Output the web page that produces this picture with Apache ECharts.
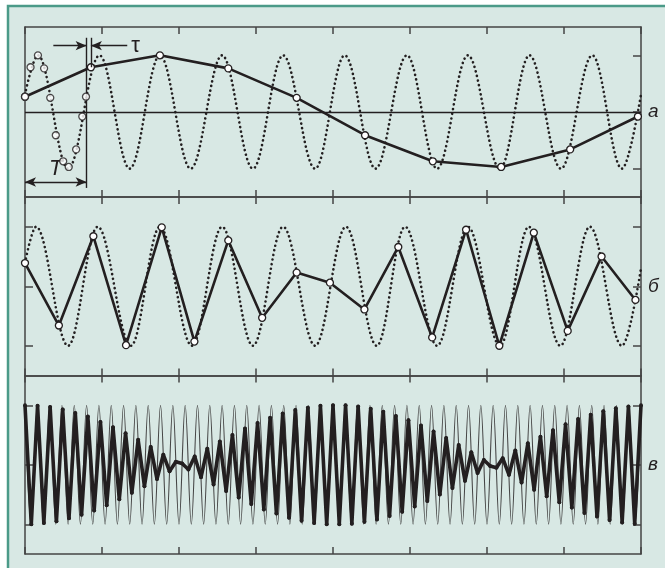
<!DOCTYPE html>
<html>
<head>
<meta charset="utf-8">
<script src="https://cdn.jsdelivr.net/npm/echarts@6/dist/echarts.min.js"></script>
<style>
  html, body { margin: 0; padding: 0; background: #ffffff; }
  #chart { width: 665px; height: 568px; }
</style>
</head>
<body>
<div id="chart"></div>
<script>
// Time is measured in periods T of the input sine; the frame spans 10 T.

// а — sine (extrema and ends) and its samples taken every T + τ
const waveAX = [0, 0.21, 0.7, 1.21, 1.7, 2.19, 2.69, 3.2, 3.7, 4.19, 4.71, 5.19, 5.69, 6.2, 6.69, 7.19, 7.71, 8.19, 8.7, 9.21, 9.69, 10];
const waveAY = [0.31, 1, -1, 1, -1, 1, -1, 1, -1, 1, -1, 1, -1, 1, -1, 1, -1, 1, -1, 1, -1, 0.31];
const sampleAX = [0, 1.07, 2.19, 3.30, 4.41, 5.52, 6.62, 7.73, 8.85, 9.95];
const sampleAY = [0.27, 0.79, 1.0, 0.77, 0.25, -0.41, -0.87, -0.97, -0.66, -0.08];
// the same samples folded back into one period (step τ)
const strobeAX = [0, 0.09, 0.21, 0.31, 0.41, 0.50, 0.62, 0.71, 0.83, 0.93, 0.99];
const strobeAY = [0.27, 0.79, 1.0, 0.77, 0.25, -0.41, -0.87, -0.97, -0.66, -0.08, 0.27];
const periodT = 1;

// б — same sine sampled a little slower than twice per period
const waveBX = [0, 0.18, 0.70, 1.18, 1.72, 2.19, 2.71, 3.2, 3.70, 4.19, 4.71, 5.21, 5.71, 6.17, 6.69, 7.19, 7.71, 8.18, 8.69, 9.17, 9.69, 10];
const waveBY = [0.39, 1, -1, 1, -1, 1, -1, 1, -1, 1, -1, 1, -1, 1, -1, 1, -1, 1, -1, 1, -1, 0.3];
const sampleBX = [0, 0.55, 1.11, 1.64, 2.22, 2.75, 3.30, 3.85, 4.41, 4.95, 5.51, 6.06, 6.61, 7.16, 7.70, 8.26, 8.81, 9.36, 9.91];
const sampleBY = [0.39, -0.66, 0.84, -0.99, 0.99, -0.93, 0.77, -0.53, 0.23, 0.06, -0.39, 0.66, -0.86, 0.95, -1.0, 0.90, -0.75, 0.50, -0.23];

// в — fast sine (50 periods, extrema only) and its samples near the Nyquist rate
const waveCY = [
  1, -1, 1, -1, 1, -1, 1, -1, 1, -1, 1, -1, 1, -1, 1, -1, 1, -1, 1, -1,
  1, -1, 1, -1, 1, -1, 1, -1, 1, -1, 1, -1, 1, -1, 1, -1, 1, -1, 1, -1,
  1, -1, 1, -1, 1, -1, 1, -1, 1, -1, 1, -1, 1, -1, 1, -1, 1, -1, 1, -1,
  1, -1, 1, -1, 1, -1, 1, -1, 1, -1, 1, -1, 1, -1, 1, -1, 1, -1, 1, -1,
  1, -1, 1, -1, 1, -1, 1, -1, 1, -1, 1, -1, 1, -1, 1, -1, 1, -1, 1, -1, 1
];
const sampleCY = [
  1.00, -1.00, 0.99, -0.98, 0.97, -0.95, 0.93, -0.90, 0.87, -0.84,
  0.81, -0.77, 0.72, -0.68, 0.63, -0.58, 0.53, -0.47, 0.42, -0.36,
  0.30, -0.24, 0.17, -0.11, 0.05, 0.02, -0.08, 0.14, -0.21, 0.27,
  -0.33, 0.39, -0.44, 0.50, -0.55, 0.61, -0.66, 0.70, -0.75, 0.79,
  -0.82, 0.86, -0.89, 0.92, -0.94, 0.96, -0.98, 0.99, -1.00, 1.00,
  -1.00, 1.00, -0.99, 0.98, -0.96, 0.94, -0.92, 0.89, -0.86, 0.82,
  -0.79, 0.75, -0.70, 0.66, -0.61, 0.56, -0.50, 0.45, -0.39, 0.33,
  -0.27, 0.21, -0.14, 0.08, -0.02, -0.05, 0.11, -0.17, 0.24, -0.30,
  0.36, -0.42, 0.47, -0.53, 0.58, -0.63, 0.68, -0.72, 0.77, -0.81,
  0.84, -0.87, 0.90, -0.93, 0.95, -0.97, 0.98, -0.99, 1.00
];

const panelLetters = ['а', 'б', 'в'];

const INK = '#231f20';
const FRAME = '#444444';
const LABEL_FONT = '"Liberation Sans Narrow", "Liberation Sans", Arial, sans-serif';
const dotted = { type: [0.1, 4.6], cap: 'round', width: 2.6, color: INK };
const openCircle = { color: '#ffffff', borderColor: INK, borderWidth: 1.3 };
const pair = (xs, ys) => xs.map((x, i) => [x, ys[i]]);

function frameX(gridIndex, position) {
  return {
    type: 'value', gridIndex, position, min: 0, max: 10, interval: 1.25,
    axisLine: { show: true, onZero: false, lineStyle: { color: FRAME, width: 1.5 } },
    axisTick: { show: true, inside: true, length: 7, lineStyle: { color: FRAME, width: 1.5 } },
    axisLabel: { show: false }, splitLine: { show: false }
  };
}
function indexX(gridIndex, values) {
  return {
    type: 'category', gridIndex, show: false, boundaryGap: false,
    data: values.map((_, i) => i)
  };
}
function frameY(gridIndex, position, ticks, letter) {
  return {
    type: 'value', gridIndex, position, min: -1.5, max: 1.5,
    axisLine: { show: true, onZero: false, lineStyle: { color: FRAME, width: 1.5 } },
    axisTick: { show: ticks.length > 0, inside: true, length: 8, customValues: ticks,
      lineStyle: { color: FRAME, width: 1.5 } },
    axisLabel: { show: !!letter, customValues: [0], formatter: () => letter || '',
      margin: 7, color: INK, fontSize: 19, fontStyle: 'italic', fontFamily: LABEL_FONT },
    splitLine: { show: false }
  };
}

const arrowSize = [7, 11];
const tY = -1.235, tauY = 1.17, guideTop = 1.31, guideBottom = -1.34;

const chart = echarts.init(document.getElementById('chart'), null, { renderer: 'canvas' });
chart.setOption({
  animation: false,
  backgroundColor: '#ffffff',
  graphic: [{
    type: 'rect', z: -10, silent: true,
    shape: { x: 8, y: 6, width: 700, height: 600 },
    style: { fill: '#d8e8e4', stroke: '#4b9a88', lineWidth: 2.5 }
  }],
  grid: [
    { left: 25, right: 24, top: 27, height: 170 },
    { left: 25, right: 24, top: 197, height: 178.5 },
    { left: 25, right: 24, top: 375.5, height: 178.5 }
  ],
  xAxis: [
    frameX(0, 'bottom'), frameX(0, 'top'),
    frameX(1, 'bottom'), frameX(1, 'top'),
    frameX(2, 'bottom'), frameX(2, 'top'),
    indexX(2, waveCY), indexX(2, sampleCY)
  ],
  yAxis: [
    frameY(0, 'left', []), frameY(0, 'right', [-1, 0, 1], panelLetters[0]),
    frameY(1, 'left', [-1, 0, 1]), frameY(1, 'right', [-1, 0, 1], panelLetters[1]),
    frameY(2, 'left', [-1, 0, 1]), frameY(2, 'right', [-1, 0, 1], panelLetters[2])
  ],
  series: [
    {
      type: 'line', xAxisIndex: 0, yAxisIndex: 0, data: pair(waveAX, waveAY),
      smooth: 0.363, smoothMonotone: 'x', symbol: 'none', lineStyle: dotted, z: 2,
      markLine: {
        silent: true, symbol: 'none', animation: false,
        lineStyle: { color: INK, type: 'solid', width: 1.4 },
        label: { show: false },
        emphasis: { disabled: true },
        data: [
          { yAxis: 0, lineStyle: { width: 1.3 } },
          [
            { coord: [0, tY], symbol: 'arrow', symbolSize: arrowSize },
            { coord: [periodT, tY], symbol: 'arrow', symbolSize: arrowSize,
              label: { show: true, formatter: 'T', position: 'middle', distance: 2,
                fontSize: 22, fontStyle: 'italic', color: INK, fontFamily: LABEL_FONT } }
          ],
          [{ coord: [periodT, guideTop] }, { coord: [periodT, guideBottom] }],
          [{ coord: [sampleAX[1], guideTop] }, { coord: [sampleAX[1], sampleAY[1]] }],
          [{ coord: [0.46, tauY] }, { coord: [periodT, tauY], symbol: 'arrow', symbolSize: arrowSize }],
          [
            { coord: [1.66, tauY] },
            { coord: [sampleAX[1], tauY], symbol: 'arrow', symbolSize: arrowSize,
              label: { show: true, formatter: 'τ', position: 'start', distance: 4,
                fontSize: 22, color: INK, fontFamily: LABEL_FONT } }
          ]
        ]
      }
    },
    {
      type: 'line', xAxisIndex: 0, yAxisIndex: 0, data: pair(sampleAX, sampleAY),
      symbol: 'circle', symbolSize: 7, showAllSymbol: true, itemStyle: openCircle,
      lineStyle: { color: INK, width: 2.6 }, z: 4
    },
    {
      type: 'scatter', xAxisIndex: 0, yAxisIndex: 0, data: pair(strobeAX, strobeAY),
      symbol: 'circle', symbolSize: 7, itemStyle: openCircle, z: 5
    },
    {
      type: 'line', xAxisIndex: 2, yAxisIndex: 2, data: pair(waveBX, waveBY),
      smooth: 0.363, smoothMonotone: 'x', symbol: 'none', lineStyle: dotted, z: 2
    },
    {
      type: 'line', xAxisIndex: 2, yAxisIndex: 2, data: pair(sampleBX, sampleBY),
      symbol: 'circle', symbolSize: 7, showAllSymbol: true, itemStyle: openCircle,
      lineStyle: { color: INK, width: 2.6 }, z: 4
    },
    {
      type: 'line', xAxisIndex: 6, yAxisIndex: 4, data: waveCY,
      smooth: 0.363, smoothMonotone: 'x', symbol: 'none',
      lineStyle: { color: '#454545', width: 1.1 }, z: 2
    },
    {
      type: 'line', xAxisIndex: 7, yAxisIndex: 4, data: sampleCY,
      symbol: 'circle', symbolSize: 4, showAllSymbol: true, itemStyle: { color: INK },
      lineStyle: { color: INK, width: 3.6, join: 'round' }, z: 4
    }
  ]
});
</script>
</body>
</html>
